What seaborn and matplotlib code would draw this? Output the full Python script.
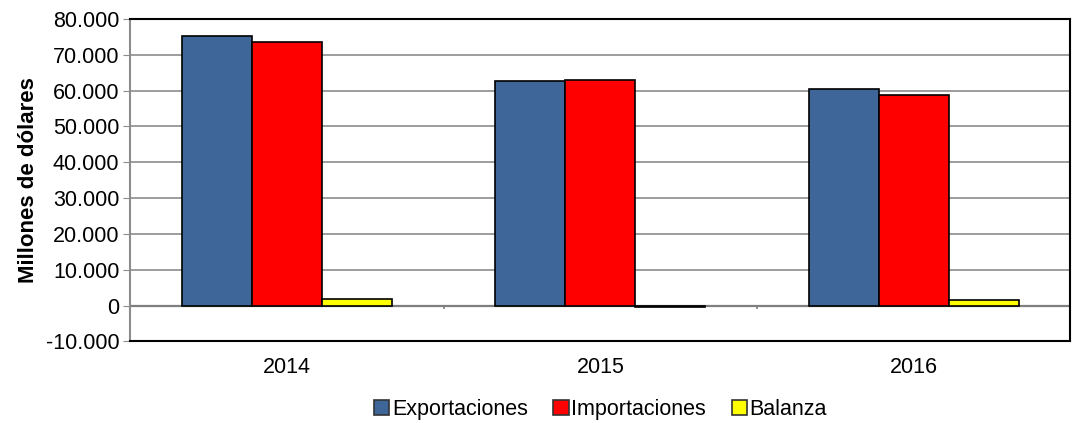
import numpy as np
import pandas as pd
import seaborn as sns
import matplotlib.pyplot as plt
from matplotlib.ticker import FuncFormatter, MultipleLocator

# Values (millones de dólares)
years = ["2014", "2015", "2016"]
exportaciones = [75400, 62600, 60600]
importaciones = [73500, 63100, 58900]
balanza = [1900, -500, 1500]

series = ["Exportaciones", "Importaciones", "Balanza"]
colors = ["#3E6699", "#FF0000", "#FFFF00"]

df = pd.DataFrame({
    "year": years * 3,
    "serie": np.repeat(series, len(years)),
    "valor": exportaciones + importaciones + balanza,
})

sns.set_style("white")
plt.rcParams["font.family"] = ["Liberation Sans", "DejaVu Sans"]
plt.rcParams["text.color"] = "black"

fig, ax = plt.subplots(figsize=(10.78, 4.23), dpi=100)
fig.subplots_adjust(left=0.121, right=0.993, top=0.955, bottom=0.193)

sns.barplot(data=df, x="year", y="valor", hue="serie", hue_order=series,
            palette=colors, width=0.67, edgecolor="black", linewidth=1.2,
            saturation=1, ax=ax, zorder=3)

ax.set_ylim(-10000, 80000)
ax.set_xlim(-0.5, 2.5)
ax.yaxis.set_major_locator(MultipleLocator(10000))
ax.yaxis.set_major_formatter(FuncFormatter(lambda v, p: f"{int(v):,}".replace(",", ".")))
ax.grid(axis="y", color="#8c8c8c", linewidth=1.2, zorder=0)
ax.axhline(0, color="#7f7f7f", linewidth=1.6, zorder=2)
# category separator ticks on the zero line
ax.vlines([0.5, 1.5], -1000, 0, color="#7f7f7f", linewidth=1.2)

for side in ["top", "right", "bottom"]:
    ax.spines[side].set_color("black")
    ax.spines[side].set_linewidth(1.5)
ax.spines["left"].set_color("#8c8c8c")
ax.spines["left"].set_linewidth(1.5)

ax.tick_params(axis="y", left=True, length=5, color="#8c8c8c", labelsize=15.5,
               labelcolor="black", pad=3)
ax.tick_params(axis="x", bottom=False, labelsize=15.5, labelcolor="black", pad=8)
ax.set_xlabel("")
ax.set_ylabel("Millones de dólares", fontsize=16, fontweight="bold",
              color="black", labelpad=5)

leg = ax.legend(loc="upper center", bbox_to_anchor=(0.5, -0.138), ncol=3, frameon=False,
                fontsize=15.5, handlelength=0.7, handleheight=0.7, handletextpad=0.12,
                columnspacing=1.2, borderaxespad=0.2)
for h in leg.legend_handles:
    h.set_edgecolor("#333333")

plt.savefig("out.png", dpi=100)
